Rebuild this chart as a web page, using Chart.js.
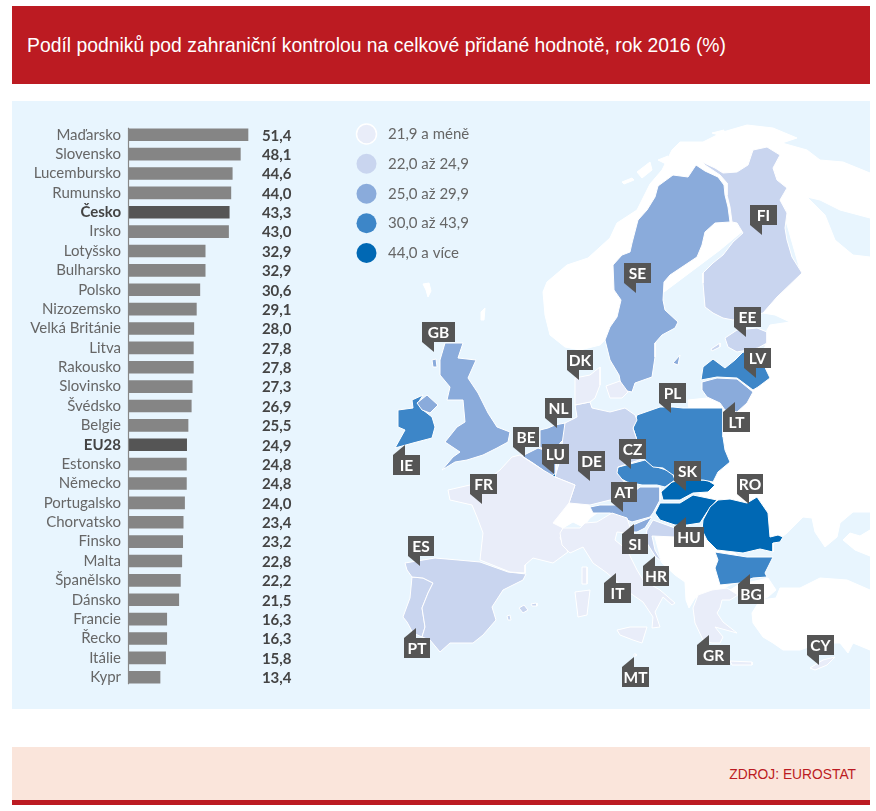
<!DOCTYPE html>
<html lang="cs">
<head>
<meta charset="utf-8">
<title>Podíl podniků pod zahraniční kontrolou</title>
<script src="https://cdn.jsdelivr.net/npm/chart.js@4/dist/chart.umd.min.js"></script>
<style>
html,body{margin:0;padding:0;background:#fff;width:876px;height:811px;overflow:hidden}
.box{position:absolute;left:12px;width:858px}
#head{top:6px;height:78px;background:#BC1B22;color:#fff;font:19.35px/1 "Liberation Sans",Arial,sans-serif;}
#head span{position:absolute;left:15px;top:30px;white-space:nowrap}
#panel{top:101px;height:608px;background:#E8F5FE}
#foot{top:747px;height:53px;background:#FAE5DB}
#foot span{position:absolute;right:14px;top:21px;color:#BC1B22;font:13.8px/1 "Liberation Sans",Arial,sans-serif}
#band{top:800px;height:5px;background:#BC1B22}
canvas{position:absolute;display:block}
#bars{left:0;top:100px}
#map{left:340px;top:100px}
</style>
</head>
<body>
<div class="box" id="head"><span>Podíl podniků pod zahraniční kontrolou na celkové přidané hodnotě, rok 2016 (%)</span></div>
<div class="box" id="panel"></div>
<div class="box" id="foot"><span>ZDROJ: EUROSTAT</span></div>
<div class="box" id="band"></div>
<canvas id="map" width="530" height="610"></canvas>
<canvas id="bars" width="340" height="610"></canvas>
<script>
const categories = ['Maďarsko','Slovensko','Lucembursko','Rumunsko','Česko','Irsko','Lotyšsko','Bulharsko','Polsko','Nizozemsko','Velká Británie','Litva','Rakousko','Slovinsko','Švédsko','Belgie','EU28','Estonsko','Německo','Portugalsko','Chorvatsko','Finsko','Malta','Španělsko','Dánsko','Francie','Řecko','Itálie','Kypr'];
const shareValues = [51.4,48.1,44.6,44.0,43.3,43.0,32.9,32.9,30.6,29.1,28.0,27.8,27.8,27.3,26.9,25.5,24.9,24.8,24.8,24.0,23.4,23.2,22.8,22.2,21.5,16.3,16.3,15.8,13.4];
const countryCodes = ['HU','SK','LU','RO','CZ','IE','LV','BG','PL','NL','GB','LT','AT','SI','SE','BE','','EE','DE','PT','HR','FI','MT','ES','DK','FR','GR','IT','CY'];
const highlighted = ['Česko','EU28'];

const legendLabels = ['21,9 a méně','22,0 až 24,9','25,0 až 29,9','30,0 až 43,9','44,0 a více'];
const classFloors = [0,22,25,30,44];
const classColors = ['#E9EDF9','#C9D5EF','#8AABDB','#3D86C8','#0068B4'];

// Map outlines, in the map's own x/y units
const outsideLand = [
 [[543,292],[547,282],[567,265],[588,258],[610,238],[617,223],[637,210],[650,184],[662,170],[672,150],[680,142],[703,142],[723,132],[747,125],[773,128],[797,138],[782,143],[807,150],[820,160],[780,200],[720,250],[640,310],[610,335],[600,345],[580,350],[565,347],[550,335],[545,315]],
 [[622,182],[632,178],[634,180],[624,184]],[[637,172],[650,162],[652,170],[642,178]],[[658,160],[668,156],[666,164]],[[423,284],[429,283],[431,291],[428,297],[426,290]],[[481,312],[485,308],[484,320],[481,320]],[[712,133],[724,130],[722,136]],
 [[820,160],[843,162],[870,173],[870,218],[840,210],[820,200],[807,197],[825,215],[835,240],[853,255],[870,257],[870,512],[853,512],[840,523],[837,537],[825,547],[815,532],[812,518],[803,517],[795,525],[787,533],[778,540],[740,540],[700,510],[700,440],[690,420],[688,400],[707,398],[720,400],[745,375],[765,347],[767,330],[770,325],[790,322],[775,315],[763,313],[800,270],[780,200]],
 [[870,530],[860,536],[850,533],[843,540],[855,550],[870,556]],
 [[870,590],[847,580],[820,578],[800,588],[780,588],[776,598],[760,600],[752,613],[753,623],[763,637],[773,643],[783,650],[800,650],[820,643],[840,643],[848,653],[853,643],[870,650]],
 [[662,563],[675,575],[685,582],[686,600],[689,608],[695,598],[720,590],[750,575],[730,545],[700,530],[675,533],[655,537]],
 [[738,585],[768,578],[776,590],[768,597],[752,603],[745,598],[730,590]],
 [[553,523],[560,510],[570,503],[585,502],[597,513],[590,518],[583,527],[573,522],[563,528]]
];
const countryShapes = {
 SE:[[[696,165],[705,171],[718,177],[724,185],[725,195],[728,207],[730,222],[715,223],[705,232],[702,245],[697,257],[685,265],[670,275],[664,282],[663,300],[665,310],[678,322],[675,328],[662,335],[655,343],[655,357],[652,377],[635,383],[632,392],[622,390],[619,375],[610,360],[605,340],[610,327],[617,317],[621,300],[614,290],[613,265],[622,255],[630,252],[632,243],[638,220],[647,210],[655,197],[658,186],[673,175],[688,177]],[[673,363],[680,355],[678,365]]],
 FI:[[[702,162],[705,165],[720,175],[727,183],[727,195],[730,207],[732,222],[737,223],[743,233],[733,242],[723,255],[713,263],[703,273],[703,283],[705,307],[713,313],[723,318],[733,320],[763,313],[777,297],[802,273],[792,257],[787,240],[785,228],[787,213],[780,200],[787,188],[777,180],[773,168],[780,155],[767,147],[753,150],[748,165],[737,172],[723,173],[715,168]]],
 EE:[[[725,338],[737,330],[757,328],[767,332],[767,343],[758,348],[737,352],[728,347]],[[711,349],[720,343],[720,347],[712,351]]],
 LV:[[[701,380],[703,367],[713,359],[725,368],[735,360],[743,352],[760,357],[770,378],[758,387],[753,390],[737,378],[717,377]]],
 LT:[[[702,382],[717,378],[737,379],[753,392],[747,403],[737,412],[725,410],[720,403],[707,397],[702,390]]],
 PL:[[[637,415],[660,407],[673,407],[683,408],[723,408],[723,437],[725,450],[730,462],[718,472],[713,482],[703,480],[690,480],[673,475],[663,468],[653,467],[645,460],[637,440],[633,428]]],
 DE:[[[565,423],[577,417],[575,405],[590,402],[592,408],[610,412],[625,408],[635,415],[637,420],[633,428],[637,440],[645,458],[618,467],[617,473],[625,483],[637,487],[622,503],[610,500],[590,505],[569,503],[575,485],[555,477],[560,460],[563,437]]],
 DK:[[[575,378],[590,375],[600,367],[600,385],[595,398],[590,402],[575,405],[575,392]],[[606,386],[620,381],[628,392],[622,398],[610,398]]],
 NL:[[[540,430],[548,428],[555,425],[565,423],[566,437],[560,443],[555,456],[540,447]]],
 BE:[[[522,456],[538,448],[550,452],[556,462],[556,473],[550,477],[543,470],[533,463]]],
 LU:[[[549,473],[555,472],[556,478],[551,480]]],
 GB:[[[445,343],[463,343],[458,358],[476,360],[468,378],[478,393],[488,413],[497,427],[510,432],[508,442],[497,448],[483,455],[467,460],[455,462],[442,470],[453,457],[460,452],[445,442],[457,427],[465,422],[463,400],[447,400],[450,387],[440,375],[440,360]],[[417,403],[427,395],[438,405],[430,413],[422,410]],[[432,360],[436,359],[437,367],[433,367]]],
 IE:[[[398,410],[413,408],[412,400],[423,395],[418,403],[423,410],[432,417],[435,427],[432,438],[413,443],[395,448],[405,430],[398,427]]],
 FR:[[[448,490],[470,485],[490,478],[500,470],[512,457],[520,455],[543,470],[555,477],[575,485],[569,503],[553,523],[563,528],[560,538],[568,552],[553,563],[533,558],[525,565],[525,573],[510,572],[480,560],[483,533],[477,517],[472,505],[450,500]],[[582,567],[587,567],[587,584],[582,584]]],
 ES:[[[405,563],[435,558],[458,560],[480,562],[508,572],[526,574],[523,580],[503,590],[492,607],[496,620],[483,635],[473,643],[450,643],[440,652],[430,640],[422,637],[425,627],[422,608],[428,593],[433,583],[423,578],[412,577],[407,570]],[[519,608],[524,605],[528,610],[523,613]],[[531,604],[536,603],[537,606],[532,606]],[[507,616],[510,615],[511,620],[508,620]]],
 PT:[[[412,577],[423,578],[433,583],[428,593],[422,608],[425,627],[422,637],[413,633],[407,622],[403,617],[410,598]]],
 IT:[[[563,528],[580,528],[585,523],[597,522],[612,513],[627,518],[630,527],[627,533],[617,532],[615,540],[627,550],[637,570],[643,580],[660,590],[675,603],[672,605],[663,597],[655,612],[660,627],[652,628],[653,617],[643,602],[630,593],[607,573],[593,563],[583,547],[570,553],[562,545],[560,533]],[[617,630],[630,627],[647,627],[642,643],[633,640],[620,635]],[[575,592],[590,590],[587,615],[578,617]]],
 AT:[[[590,507],[600,505],[617,505],[640,487],[660,487],[660,500],[653,513],[650,517],[632,522],[610,513],[593,513]]],
 CZ:[[[615,468],[645,460],[657,467],[672,472],[675,480],[665,487],[657,485],[642,485],[627,482],[618,477]]],
 SK:[[[672,482],[683,480],[707,480],[715,485],[708,492],[693,493],[680,500],[663,500],[661,492]]],
 HU:[[[660,503],[680,503],[693,495],[717,500],[707,512],[700,523],[687,525],[675,525],[660,520],[655,513]]],
 SI:[[[628,527],[652,517],[645,528],[637,532],[628,532]]],
 HR:[[[647,530],[653,520],[675,528],[687,532],[675,537],[652,536],[655,550],[662,562],[655,556],[645,540]]],
 RO:[[[718,500],[730,499],[747,503],[757,497],[768,513],[770,537],[778,535],[783,537],[780,542],[773,543],[773,552],[760,549],[743,553],[717,550],[707,540],[702,530],[703,520],[710,507]]],
 BG:[[[715,552],[747,557],[773,557],[765,573],[767,577],[753,578],[740,583],[720,585],[715,568],[718,560]]],
 GR:[[[693,608],[698,595],[712,590],[727,588],[738,595],[730,600],[722,600],[720,608],[717,613],[723,622],[737,633],[715,627],[723,637],[720,643],[712,643],[703,640],[695,623]],[[730,661],[752,662],[752,665],[732,665]]],
 CY:[[[810,668],[823,660],[835,657],[827,665],[815,670]]],
 MT:[[[634,654],[636,654],[636,656],[634,656]]]
};
const calloutDown = {GB:[422,322,33],DK:[567,350,26],NL:[545,398,27],BE:[513,427,26],LU:[542,444,27],DE:[578,451,27],FR:[470,474,27],SE:[624,263,27],FI:[750,205,27],EE:[734,307,27],LV:[744,348,27],PL:[659,383,27],CZ:[619,439,27],SK:[674,461,27],AT:[611,482,26],RO:[737,474,26],ES:[408,536,26],CY:[807,635,27]};
const calloutUp = {IE:[393,455,27],LT:[723,412,27],HU:[674,527,30],SI:[622,534,26],HR:[643,566,26],BG:[738,584,26],IT:[604,583,27],PT:[404,638,26],MT:[622,667,27],GR:[697,645,33]};
const legendMapX = 366.5, legendMapY = [134,163.7,193.7,223.3,253], legendTextX = 388;

const BODY_FONT = 'Lato, "Open Sans", sans-serif';
const LABEL_SIZE = 15;

function classColor(v){ let c = 0; classFloors.forEach((f,i)=>{ if(v>=f) c=i; }); return classColors[c]; }

/* ---------- bar chart ---------- */
const barLabelsPlugin = {
  id:'barLabels',
  afterDatasetsDraw(chart){
    const {ctx,scales:{y}} = chart;
    const meta = chart.getDatasetMeta(0);
    ctx.save();
    ctx.strokeStyle='#888'; ctx.lineWidth=1.2;
    ctx.beginPath();
    ctx.moveTo(y.left+y.width-0.5, meta.data[0].y-7);
    ctx.lineTo(y.left+y.width-0.5, meta.data[meta.data.length-1].y+7);
    ctx.stroke();
    ctx.font='700 '+LABEL_SIZE+'px '+BODY_FONT;
    ctx.fillStyle='#444'; ctx.textAlign='right'; ctx.textBaseline='middle';
    shareValues.forEach((v,i)=>{
      ctx.fillText(v.toFixed(1).replace('.',','), 291.5, meta.data[i].y+1);
    });
    ctx.restore();
  }
};
new Chart(document.getElementById('bars'),{
  type:'bar',
  data:{labels:categories,datasets:[{
    data:shareValues,
    backgroundColor:categories.map(c=>highlighted.includes(c)?'#555555':'#858585'),
    barThickness:12
  }]},
  plugins:[barLabelsPlugin],
  options:{
    indexAxis:'y',responsive:false,animation:false,
    layout:{padding:{top:25.1,bottom:23.1,right:72.1,left:0}},
    plugins:{legend:{display:false},tooltip:{enabled:false}},
    scales:{
      x:{display:false,min:0,max:60},
      y:{
        afterFit(s){s.width=129;},
        grid:{display:false,drawTicks:false},border:{display:false},
        ticks:{
          autoSkip:false,padding:8,
          color:ctx=>highlighted.includes(categories[ctx.index])?'#444':'#666',
          font:ctx=>({family:BODY_FONT,size:LABEL_SIZE,weight:highlighted.includes(categories[ctx.index])?'700':'400'})
        }
      }
    }
  }
});

/* ---------- map chart ---------- */
function ring(points,color){
  const closed = points.concat([points[0]]);
  return {
    data:closed.map(p=>({x:p[0],y:p[1]})),
    showLine:true,fill:'shape',tension:0,
    backgroundColor:color,borderColor:'#fff',borderWidth:1,
    pointRadius:0,pointHoverRadius:0
  };
}
const mapDatasets = [];
outsideLand.forEach(r=>mapDatasets.push(ring(r,'#fff')));
categories.forEach((c,i)=>{
  const shape = countryShapes[countryCodes[i]];
  if(shape) shape.forEach(r=>mapDatasets.push(ring(r,classColor(shareValues[i]))));
});
mapDatasets.reverse();

const mapOverlay = {
  id:'mapOverlay',
  afterDatasetsDraw(chart){
    const {ctx,scales:{x,y}} = chart;
    const X=v=>x.getPixelForValue(v), Y=v=>y.getPixelForValue(v);
    ctx.save();
    legendLabels.forEach((t,i)=>{
      ctx.beginPath();
      ctx.arc(X(legendMapX),Y(legendMapY[i]),10,0,Math.PI*2);
      ctx.fillStyle=classColors[i]; ctx.fill();
      if(i===0){ctx.strokeStyle='#fff';ctx.lineWidth=1.5;ctx.stroke();}
      ctx.fillStyle='#666'; ctx.font='400 '+LABEL_SIZE+'px '+BODY_FONT;
      ctx.textAlign='left'; ctx.textBaseline='middle';
      ctx.fillText(t,X(legendTextX),Y(legendMapY[i]));
    });
    const H=20;
    const tag=(code,p,up)=>{
      const l=X(p[0]),t=Y(p[1]),w=p[2];
      ctx.fillStyle='#555';
      ctx.fillRect(l,t,w,H);
      ctx.beginPath();
      if(up){ctx.moveTo(l,t);ctx.lineTo(l+12,t-10);ctx.lineTo(l+12,t);}
      else{ctx.moveTo(l,t+H);ctx.lineTo(l+12,t+H+10);ctx.lineTo(l+12,t+H);}
      ctx.closePath();ctx.fill();
      ctx.fillStyle='#fff';ctx.font='700 15.5px '+BODY_FONT;
      ctx.textAlign='center';ctx.textBaseline='middle';
      ctx.fillText(code,l+w/2,t+H/2+0.5);
    };
    Object.entries(calloutDown).forEach(([c,p])=>tag(c,p,false));
    Object.entries(calloutUp).forEach(([c,p])=>tag(c,p,true));
    ctx.restore();
  }
};
new Chart(document.getElementById('map'),{
  type:'scatter',
  data:{datasets:mapDatasets},
  plugins:[mapOverlay],
  options:{
    responsive:false,animation:false,
    layout:{padding:0},
    plugins:{legend:{display:false},tooltip:{enabled:false}},
    scales:{
      x:{type:'linear',display:false,min:340,max:870},
      y:{type:'linear',display:false,min:100,max:710,reverse:true}
    }
  }
});
</script>
</body>
</html>
